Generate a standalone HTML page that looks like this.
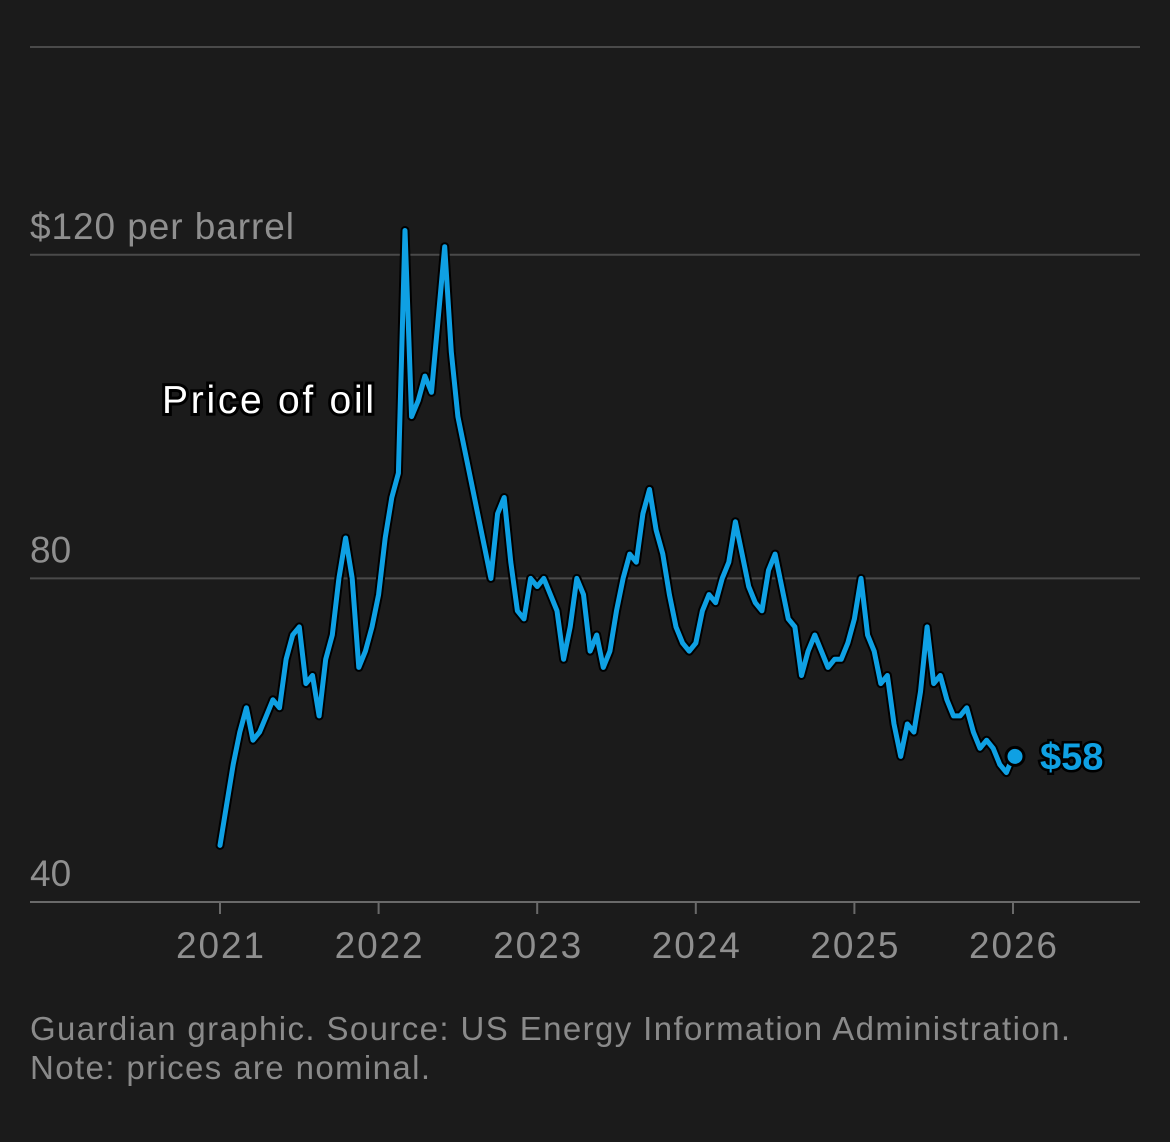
<!DOCTYPE html>
<html><head><meta charset="utf-8"><style>
body{margin:0;background:#1b1b1b;}
svg text{font-family:"Liberation Sans",sans-serif;}
</style></head><body>
<svg id="chart" width="1170" height="1137" xmlns="http://www.w3.org/2000/svg">
<rect width="1170" height="1137" fill="#1b1b1b"/>
<g id="grid"></g><g id="xaxis"></g><g id="series"></g>
<text x="162" y="413" font-size="39" textLength="212" fill="#fff" stroke="#000" stroke-width="6" paint-order="stroke">Price of oil</text>
<text x="30" y="1040" font-size="33" textLength="1040" fill="#8a8a8a">Guardian graphic. Source: US Energy Information Administration.</text>
<text x="30" y="1079" font-size="33" textLength="400" fill="#8a8a8a">Note: prices are nominal.</text>
</svg>
<script>
const yTicks=[40,80,120];
const yTickLabels=["40","80","$120 per barrel"];
const xTicks=[2021,2022,2023,2024,2025,2026];
const startYear=2021.0;
const stepYears=1/24;
const prices=[47,52,57,61,64,60,61,63,65,64,70,73,74,67,68,63,70,73,80,85,80,69,71,74,
78,85,90,93,123,100,102,105,103,112,121,108,100,96,92,88,84,80,88,90,82,76,75,80,
79,80,78,76,70,74,80,78,71,73,69,71,76,80,83,82,88,91,86,83,78,74,72,71,
72,76,78,77,80,82,87,83,79,77,76,81,83,79,75,74,68,71,73,71,69,70,70,72,
75,80,73,71,67,68,62,58,62,61,66,74,67,68,65,63,63,64,61,59,60,59,57,56,58];
const lastLabel="$58";
const NS="http://www.w3.org/2000/svg";
const X=y=>220+(y-2021)*158.6;
const Y=v=>902-(v-40)*8.09;
function mk(t,a,p){const e=document.createElementNS(NS,t);for(const k in a)e.setAttribute(k,a[k]);p.appendChild(e);return e;}
const grid=document.getElementById('grid');
const topLine=mk('line',{x1:30,x2:1140,y1:47,y2:47,stroke:'#4a4a4a','stroke-width':2},grid);


yTicks.forEach((v,i)=>{
 const l=mk('line',{x1:30,x2:1140,y1:Y(v),y2:Y(v),stroke:i==0?'#6a6a6a':'#4a4a4a','stroke-width':2},grid);
 
 
 const a={x:30,y:Y(v)-16,'font-size':37,fill:'#8f8f8f'};
 if(i==2)a.textLength=264;
 const t=mk('text',a,grid);t.textContent=yTickLabels[i];
 
 
});
const xa=document.getElementById('xaxis');
xTicks.forEach(yr=>{
 const l=mk('line',{x1:X(yr),x2:X(yr),y1:902,y2:914,stroke:'#6a6a6a','stroke-width':2},xa);
 
 
 const t=mk('text',{x:X(yr),y:958,'font-size':37,fill:'#8f8f8f','text-anchor':'middle',textLength:88},xa);t.textContent=yr;
 
 
});
const s=document.getElementById('series');
const d=prices.map((v,i)=>(i?'L':'M')+X(startYear+i*stepYears).toFixed(1)+','+Y(v).toFixed(1)).join('');
const o=mk('path',{d:d,fill:'none',stroke:'#000','stroke-width':9,'stroke-linejoin':'round','stroke-linecap':'round'},s);


const p=mk('path',{d:d,fill:'none',stroke:'#0fa0e3','stroke-width':5,'stroke-linejoin':'round','stroke-linecap':'round'},s);


const li=prices.length-1,lx=X(startYear+li*stepYears),ly=Y(prices[li]);
const c=mk('circle',{cx:lx+2,cy:ly,r:9,fill:'#0fa0e3',stroke:'#000','stroke-width':3},s);


const lt=mk('text',{x:lx+27,y:ly+13,'font-size':38,'font-weight':'bold',fill:'#0fa0e3',stroke:'#000','stroke-width':5,'paint-order':'stroke'},s);lt.textContent=lastLabel;


</script>
</body></html>
